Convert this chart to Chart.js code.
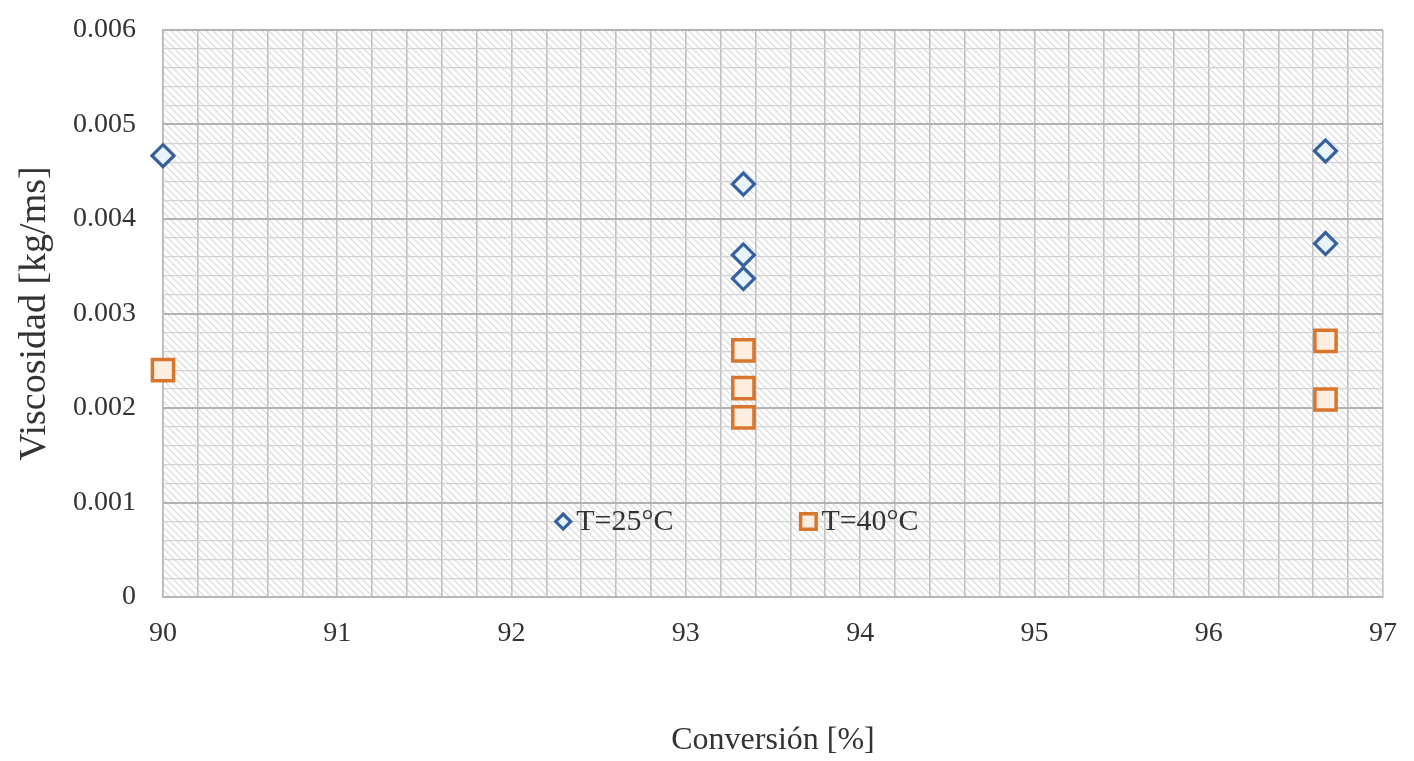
<!DOCTYPE html>
<html>
<head>
<meta charset="utf-8">
<script src="https://cdn.jsdelivr.net/npm/chart.js@4"></script>
<style>
  html, body { margin: 0; padding: 0; background: #fff; }
  #wrap { width: 1414px; height: 761px; position: relative; }
</style>
</head>
<body>
<div id="wrap"><canvas id="c" width="1414" height="761"></canvas></div>
<script>
// ---- data ----
const seriesLabels = ['T=25°C', 'T=40°C'];
const conversion25 = [90, 93.33, 93.33, 93.33, 96.67, 96.67];
const viscosity25  = [0.00467, 0.00437, 0.00362, 0.00337, 0.00472, 0.00374];
const conversion40 = [90, 93.33, 93.33, 93.33, 96.67, 96.67];
const viscosity40  = [0.00240, 0.00261, 0.00221, 0.00190, 0.00271, 0.00209];
const xAxisTitle = 'Conversión [%]';
const yAxisTitle = 'Viscosidad [kg/ms]';

const SERIF = '"Liberation Serif", "Times New Roman", serif';
const TEXT = '#333333';

function toPoints(xs, ys) { return xs.map((x, i) => ({ x: x, y: ys[i] })); }

// hatch pattern for plot background
function makeHatch() {
  const p = document.createElement('canvas');
  p.width = 7; p.height = 7;
  const g = p.getContext('2d');
  g.fillStyle = '#ffffff';
  g.fillRect(0, 0, 7, 7);
  g.strokeStyle = '#dedede';
  g.lineWidth = 1.3;
  g.beginPath();
  g.moveTo(-1, -1); g.lineTo(8, 8);
  g.moveTo(-1, 6); g.lineTo(1, 8);
  g.moveTo(6, -1); g.lineTo(8, 1);
  g.stroke();
  return p;
}

const hatchPlugin = {
  id: 'hatch',
  beforeDraw(chart) {
    const { ctx, chartArea: a } = chart;
    ctx.save();
    ctx.fillStyle = ctx.createPattern(makeHatch(), 'repeat');
    ctx.fillRect(a.left, a.top, a.right - a.left, a.bottom - a.top);
    ctx.restore();
  }
};

const legendPlugin = {
  id: 'innerLegend',
  afterDraw(chart) {
    const { ctx, chartArea: a } = chart;
    const w = a.right - a.left, h = a.bottom - a.top;
    const y = a.top + h * 0.867;
    const xs = [a.left + w * 0.328, a.left + w * 0.529];
    chart.data.datasets.forEach((ds, i) => {
      const mx = xs[i];
      ctx.save();
      ctx.fillStyle = ds.pointBackgroundColor;
      ctx.strokeStyle = ds.pointBorderColor;
      ctx.lineWidth = ds.pointBorderWidth;
      Chart.helpers.drawPoint(ctx, {
        pointStyle: ds.pointStyle,
        radius: i === 0 ? 7.5 : 11,
        borderWidth: ds.pointBorderWidth,
        rotation: 0
      }, mx, y);
      ctx.restore();
      ctx.save();
      ctx.font = '30px ' + SERIF;
      ctx.fillStyle = TEXT;
      ctx.textBaseline = 'middle';
      ctx.textAlign = 'left';
      ctx.fillText(ds.label, mx + 13, y + 1);
      ctx.restore();
    });
  }
};

const isNear = (v, step) => Math.abs(v / step - Math.round(v / step)) < 1e-6;

new Chart(document.getElementById('c'), {
  type: 'scatter',
  data: {
    datasets: [
      {
        label: seriesLabels[0],
        data: toPoints(conversion25, viscosity25),
        pointStyle: 'rectRot',
        pointRadius: 11,
        pointHoverRadius: 11,
        pointBorderWidth: 3.2,
        pointBorderColor: '#36619e',
        pointBackgroundColor: '#e8f3fc',
        backgroundColor: '#e8f3fc',
        borderColor: '#36619e',
        clip: false
      },
      {
        label: seriesLabels[1],
        data: toPoints(conversion40, viscosity40),
        pointStyle: 'rect',
        pointRadius: 15,
        pointHoverRadius: 15,
        pointBorderWidth: 3.5,
        pointBorderColor: '#d9762e',
        pointBackgroundColor: '#fdeedf',
        backgroundColor: '#fdeedf',
        borderColor: '#d9762e',
        clip: false
      }
    ]
  },
  options: {
    responsive: false,
    animation: false,
    events: [],
    layout: { padding: { top: 30, right: 31, bottom: 0, left: 0 } },
    plugins: {
      legend: { display: false },
      tooltip: { enabled: false }
    },
    scales: {
      x: {
        type: 'linear',
        min: 90,
        max: 97,
        afterFit(scale) {
          scale.height = 164;
          scale.paddingLeft = 0;
          scale.paddingRight = 0;
        },
        ticks: {
          stepSize: 0.2,
          autoSkip: false,
          maxRotation: 0,
          padding: 20,
          color: TEXT,
          font: { family: SERIF, size: 28 },
          callback(v) { return isNear(v, 1) ? String(Math.round(v)) : ''; }
        },
        grid: {
          drawTicks: false,
          color: '#c2c2c2',
          lineWidth: 1.6
        },
        border: { display: true, color: '#b8b8b8', width: 1.6 },
        title: {
          display: true,
          text: xAxisTitle,
          color: TEXT,
          font: { family: SERIF, size: 32, lineHeight: 1 },
          padding: { top: 0, bottom: 4 }
        }
      },
      y: {
        type: 'linear',
        min: 0,
        max: 0.006,
        afterFit(scale) {
          scale.width = 163;
          scale.paddingTop = 0;
          scale.paddingBottom = 0;
        },
        ticks: {
          stepSize: 0.0002,
          autoSkip: false,
          padding: 27,
          color: TEXT,
          font: { family: SERIF, size: 28 },
          callback(v) {
            if (!isNear(v, 0.001)) return '';
            const n = Math.round(v / 0.001);
            return n === 0 ? '0' : (n / 1000).toFixed(3);
          }
        },
        grid: {
          drawTicks: false,
          color(ctx) {
            const v = ctx.tick ? ctx.tick.value : 0;
            return isNear(v, 0.001) ? '#b2b2b2' : '#d2d2d2';
          },
          lineWidth(ctx) {
            const v = ctx.tick ? ctx.tick.value : 0;
            return isNear(v, 0.001) ? 2 : 1.2;
          }
        },
        border: { display: true, color: '#b8b8b8', width: 1.6 },
        title: {
          display: true,
          text: yAxisTitle,
          color: TEXT,
          font: { family: SERIF, size: 38, lineHeight: 1 },
          padding: { top: 16, bottom: 0 }
        }
      }
    }
  },
  plugins: [hatchPlugin, legendPlugin]
});
</script>
</body>
</html>
